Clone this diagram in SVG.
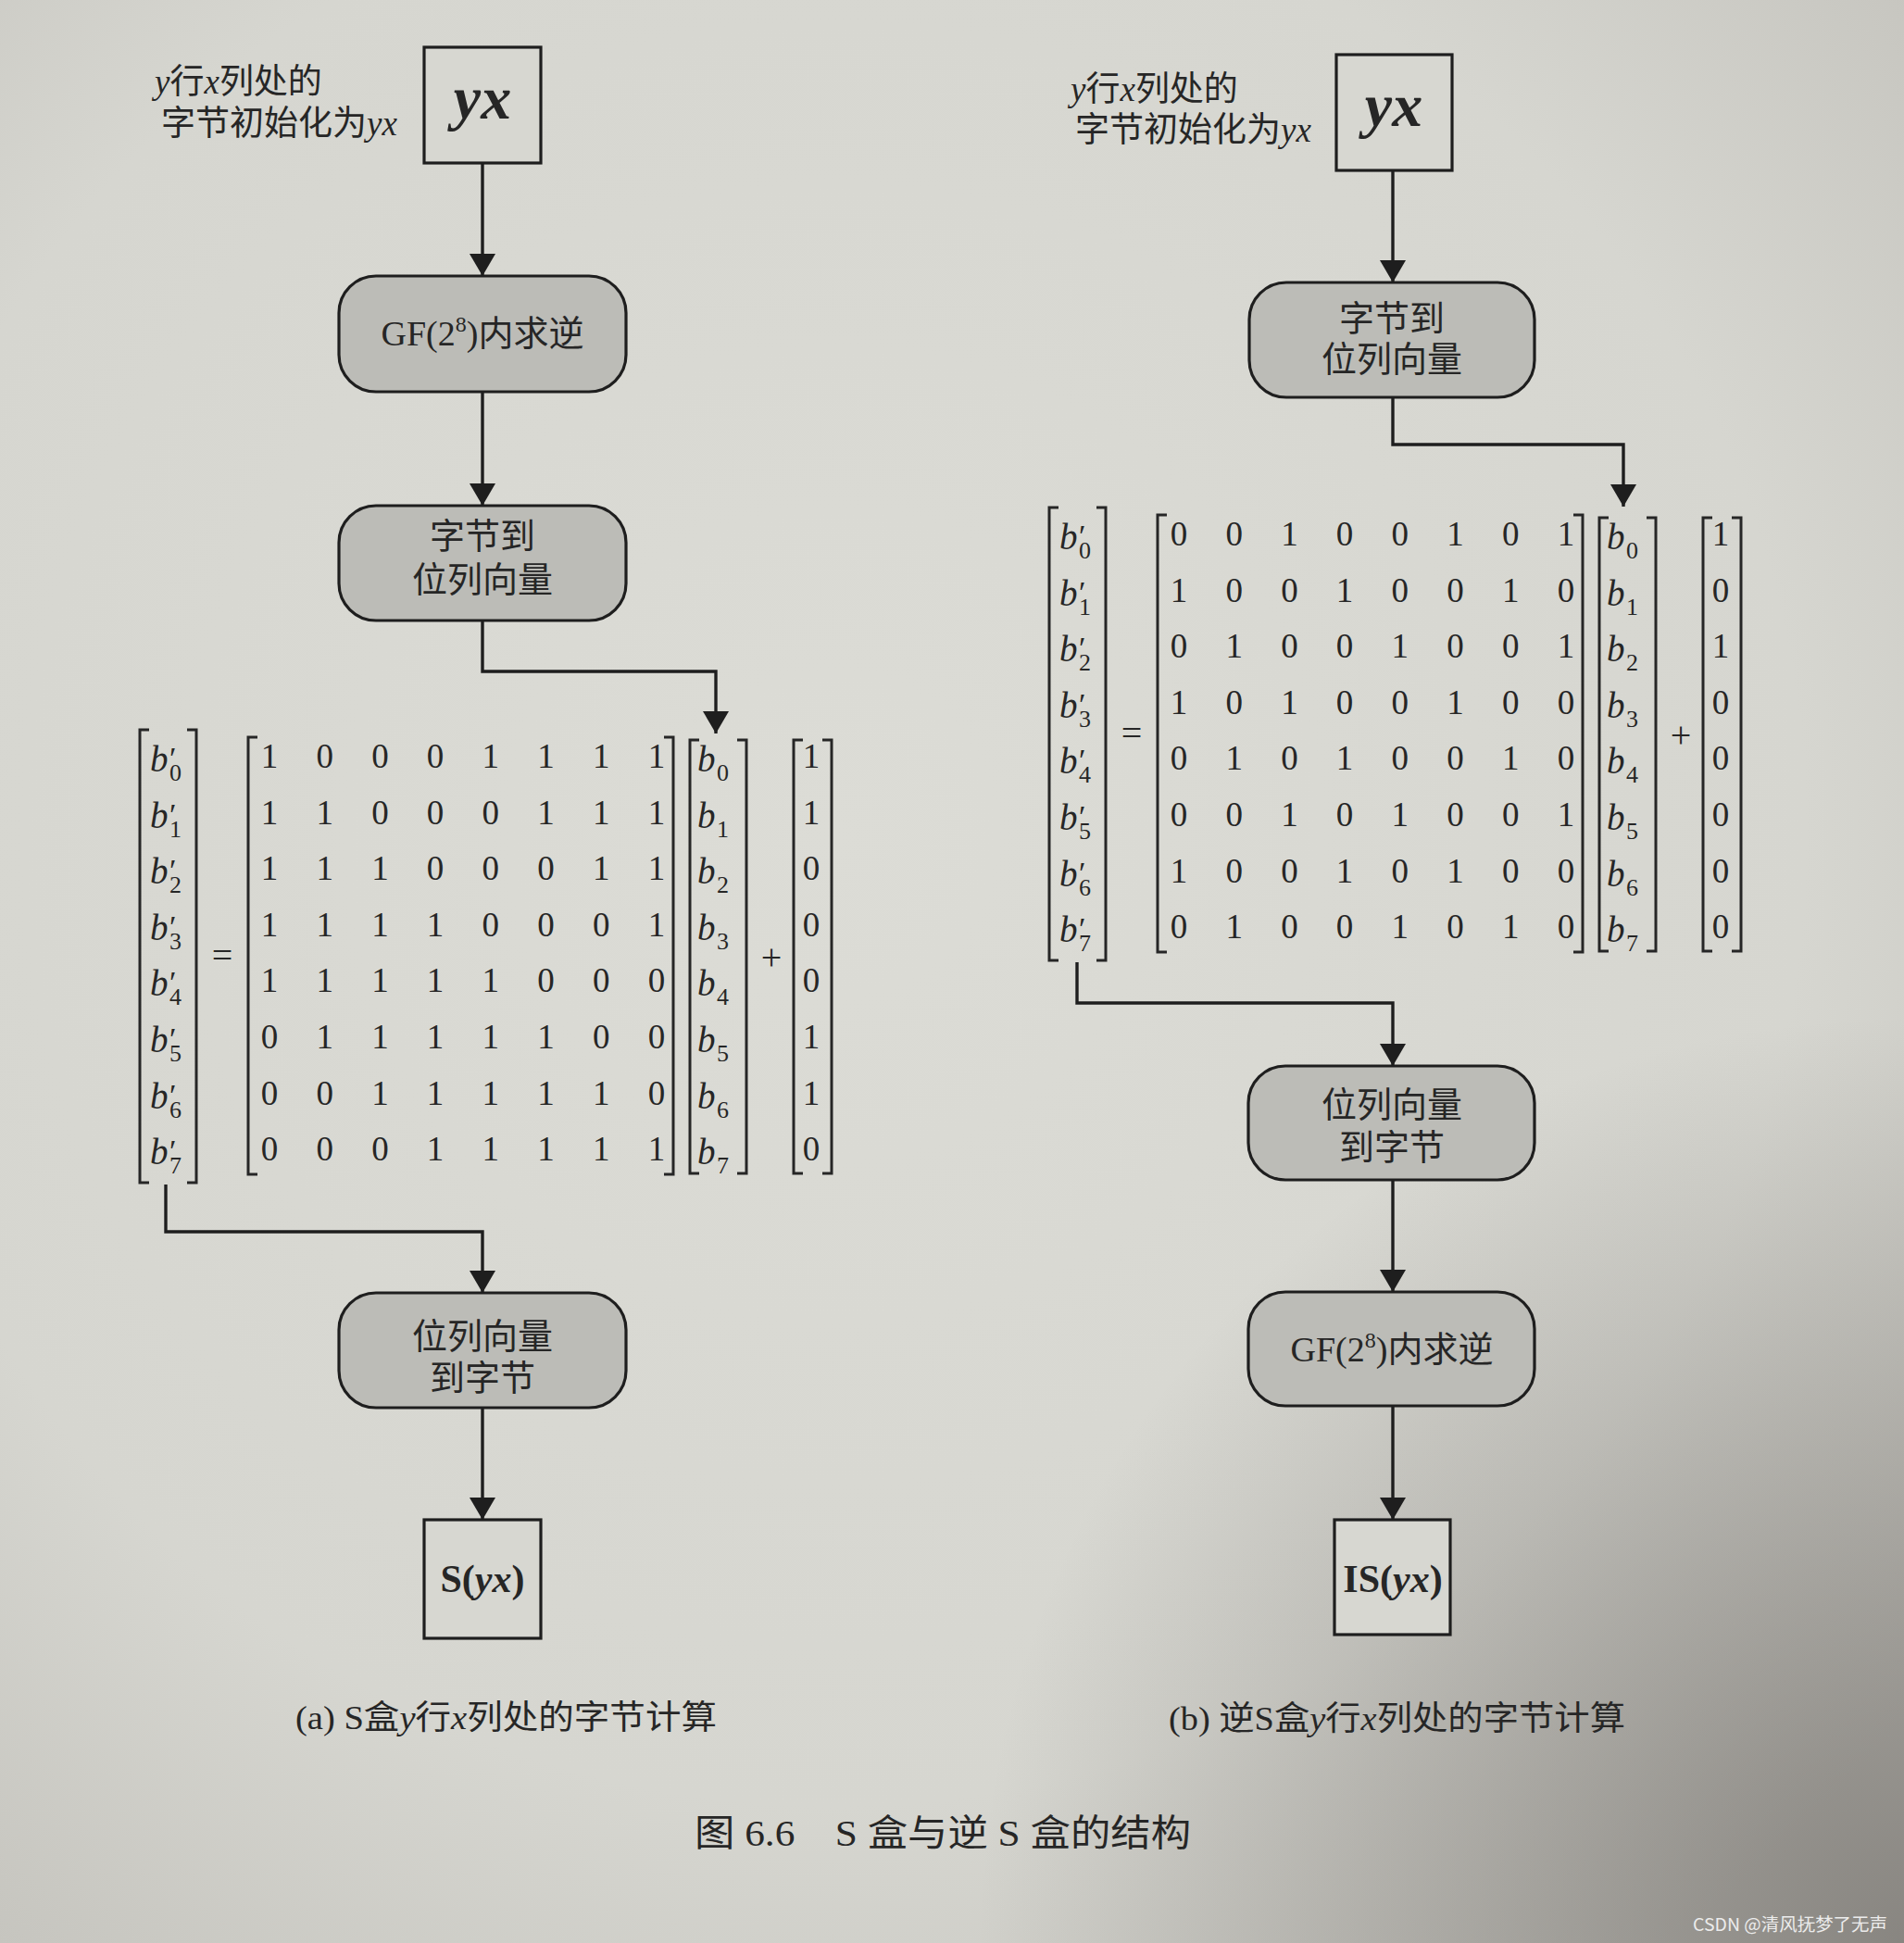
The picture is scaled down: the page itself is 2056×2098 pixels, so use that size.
<svg xmlns="http://www.w3.org/2000/svg" width="2056" height="2098" viewBox="0 0 2056 2098">
<defs>
<radialGradient id="vig" gradientUnits="userSpaceOnUse" cx="2056" cy="2098" r="1000">
<stop offset="0" stop-color="#5f5b57" stop-opacity="0.6"/>
<stop offset="1" stop-color="#5f5b57" stop-opacity="0"/>
</radialGradient>
<radialGradient id="vig2" gradientUnits="userSpaceOnUse" cx="900" cy="900" r="1500">
<stop offset="0" stop-color="#dcdcd6"/>
<stop offset="0.7" stop-color="#d6d6d0"/>
<stop offset="1" stop-color="#c6c5bf"/>
</radialGradient>
<marker id="arr" viewBox="0 0 24 28" markerWidth="24" markerHeight="28" refX="24" refY="14" orient="auto" markerUnits="userSpaceOnUse">
<path d="M0,0 L24,14 L0,28 z" fill="#1e1e1e"/>
</marker>
<style>
.t{font-family:'Liberation Serif','Noto Sans CJK SC',serif;fill:#262626;}
.c{text-anchor:middle;}
.i{font-style:italic;}
.sq{fill:#d7d7d1;stroke:#1e1e1e;stroke-width:3.2;}
.rb{fill:#bcbcb7;stroke:#1e1e1e;stroke-width:3.2;}
.ln{fill:none;stroke:#1e1e1e;stroke-width:3.4;}
.br{fill:none;stroke:#262626;stroke-width:3;}
.dg{font-family:'Liberation Serif',serif;font-size:37px;fill:#262626;text-anchor:middle;}
.bv{font-family:'Liberation Serif',serif;font-size:39px;font-style:italic;fill:#262626;}
.sb{font-family:'Liberation Serif',serif;font-size:26px;fill:#262626;}
.pr{font-family:'Liberation Serif',serif;font-size:34px;fill:#262626;}
.op{font-family:'Liberation Serif',serif;font-size:40px;fill:#262626;text-anchor:middle;}
</style>
<g id="bprime">
<text class="bv" x="162" y="833">b</text><text class="pr" x="183" y="830">′</text><text class="sb" x="183" y="843">0</text>
<text class="bv" x="162" y="893.6">b</text><text class="pr" x="183" y="890.6">′</text><text class="sb" x="183" y="903.6">1</text>
<text class="bv" x="162" y="954.2">b</text><text class="pr" x="183" y="951.2">′</text><text class="sb" x="183" y="964.2">2</text>
<text class="bv" x="162" y="1014.8">b</text><text class="pr" x="183" y="1011.8">′</text><text class="sb" x="183" y="1024.8">3</text>
<text class="bv" x="162" y="1075.4">b</text><text class="pr" x="183" y="1072.4">′</text><text class="sb" x="183" y="1085.4">4</text>
<text class="bv" x="162" y="1136">b</text><text class="pr" x="183" y="1133">′</text><text class="sb" x="183" y="1146">5</text>
<text class="bv" x="162" y="1196.6">b</text><text class="pr" x="183" y="1193.6">′</text><text class="sb" x="183" y="1206.6">6</text>
<text class="bv" x="162" y="1257.2">b</text><text class="pr" x="183" y="1254.2">′</text><text class="sb" x="183" y="1267.2">7</text>
</g>
<g id="bvec">
<text class="bv" x="753" y="833">b</text><text class="sb" x="774" y="843">0</text>
<text class="bv" x="753" y="893.6">b</text><text class="sb" x="774" y="903.6">1</text>
<text class="bv" x="753" y="954.2">b</text><text class="sb" x="774" y="964.2">2</text>
<text class="bv" x="753" y="1014.8">b</text><text class="sb" x="774" y="1024.8">3</text>
<text class="bv" x="753" y="1075.4">b</text><text class="sb" x="774" y="1085.4">4</text>
<text class="bv" x="753" y="1136">b</text><text class="sb" x="774" y="1146">5</text>
<text class="bv" x="753" y="1196.6">b</text><text class="sb" x="774" y="1206.6">6</text>
<text class="bv" x="753" y="1257.2">b</text><text class="sb" x="774" y="1267.2">7</text>
</g>
<g id="brackets">
<path class="br" d="M161,788 H151 V1277 H161 M202,788 H212 V1277 H202"/>
<path class="br" d="M278,796 H268 V1268 H278 M717,796 H727 V1268 H717"/>
<path class="br" d="M755,799 H745 V1267 H755 M796,799 H806 V1267 H796"/>
<path class="br" d="M867,799 H857 V1267 H867 M888,799 H898 V1267 H888"/>
<text class="op" x="240" y="1045">=</text>
<text class="op" x="833" y="1047">+</text>
</g>
</defs>

<rect x="0" y="0" width="2056" height="2098" fill="url(#vig2)"/>
<rect x="0" y="0" width="2056" height="2098" fill="url(#vig)"/>

<g id="connectors">
<line class="ln" x1="521" y1="176" x2="521" y2="298" marker-end="url(#arr)"/>
<line class="ln" x1="521" y1="423" x2="521" y2="546" marker-end="url(#arr)"/>
<polyline class="ln" points="521,670 521,725 773,725 773,792" marker-end="url(#arr)"/>
<polyline class="ln" points="179,1279 179,1330 521,1330 521,1396" marker-end="url(#arr)"/>
<line class="ln" x1="521" y1="1520" x2="521" y2="1641" marker-end="url(#arr)"/>
<line class="ln" x1="1504" y1="184" x2="1504" y2="305" marker-end="url(#arr)"/>
<polyline class="ln" points="1504,429 1504,480 1753,480 1753,547" marker-end="url(#arr)"/>
<polyline class="ln" points="1163,1039 1163,1083 1504,1083 1504,1151" marker-end="url(#arr)"/>
<line class="ln" x1="1504" y1="1274" x2="1504" y2="1395" marker-end="url(#arr)"/>
<line class="ln" x1="1504" y1="1518" x2="1504" y2="1641" marker-end="url(#arr)"/>
</g>

<g id="label-a">
<text class="t" x="167" y="101" font-size="37"><tspan class="i">y</tspan>行<tspan class="i">x</tspan>列处的</text>
<text class="t" x="174" y="146" font-size="37">字节初始化为<tspan class="i">yx</tspan></text>
</g>
<g id="node-yx-a">
<rect class="sq" x="458" y="51" width="126" height="125"/>
<text class="t c" x="521" y="128" font-size="66" font-weight="bold" font-style="italic">yx</text>
</g>
<g id="node-gf-a">
<rect class="rb" x="366" y="298" width="310" height="125" rx="40"/>
<text class="t c" x="521" y="373" font-size="38">GF(2<tspan font-size="24" dy="-15">8</tspan><tspan dy="15">)内求逆</tspan></text>
</g>
<g id="node-b2v-a">
<rect class="rb" x="366" y="546" width="310" height="124" rx="40"/>
<text class="t c" x="521" y="592" font-size="38">字节到</text>
<text class="t c" x="521" y="639" font-size="38">位列向量</text>
</g>
<g id="node-matrix-a">
<use href="#bprime"/>
<use href="#brackets"/>
<use href="#bvec"/>
<text class="dg" x="291 350.7 410.4 470.1 529.8 589.5 649.2 708.9" y="829">10001111</text>
<text class="dg" x="291 350.7 410.4 470.1 529.8 589.5 649.2 708.9" y="889.6">11000111</text>
<text class="dg" x="291 350.7 410.4 470.1 529.8 589.5 649.2 708.9" y="950.2">11100011</text>
<text class="dg" x="291 350.7 410.4 470.1 529.8 589.5 649.2 708.9" y="1010.8">11110001</text>
<text class="dg" x="291 350.7 410.4 470.1 529.8 589.5 649.2 708.9" y="1071.4">11111000</text>
<text class="dg" x="291 350.7 410.4 470.1 529.8 589.5 649.2 708.9" y="1132">01111100</text>
<text class="dg" x="291 350.7 410.4 470.1 529.8 589.5 649.2 708.9" y="1192.6">00111110</text>
<text class="dg" x="291 350.7 410.4 470.1 529.8 589.5 649.2 708.9" y="1253.2">00011111</text>
<text class="dg" x="876" y="829">1</text>
<text class="dg" x="876" y="889.6">1</text>
<text class="dg" x="876" y="950.2">0</text>
<text class="dg" x="876" y="1010.8">0</text>
<text class="dg" x="876" y="1071.4">0</text>
<text class="dg" x="876" y="1132">1</text>
<text class="dg" x="876" y="1192.6">1</text>
<text class="dg" x="876" y="1253.2">0</text>
</g>
<g id="node-v2b-a">
<rect class="rb" x="366" y="1396" width="310" height="124" rx="40"/>
<text class="t c" x="521" y="1456" font-size="38">位列向量</text>
<text class="t c" x="521" y="1501" font-size="38">到字节</text>
</g>
<g id="node-s-a">
<rect class="sq" x="458" y="1641" width="126" height="128"/>
<text class="t c" x="521" y="1719" font-size="42" font-weight="bold">S(<tspan class="i">yx</tspan>)</text>
</g>
<g id="caption-a">
<text class="t" x="319" y="1867" font-size="36" textLength="455" lengthAdjust="spacingAndGlyphs">(a) S盒<tspan class="i">y</tspan>行<tspan class="i">x</tspan>列处的字节计算</text>
</g>

<g id="label-b">
<text class="t" x="1156" y="109" font-size="37"><tspan class="i">y</tspan>行<tspan class="i">x</tspan>列处的</text>
<text class="t" x="1161" y="153" font-size="37">字节初始化为<tspan class="i">yx</tspan></text>
</g>
<g id="node-yx-b">
<rect class="sq" x="1443" y="59" width="125" height="125"/>
<text class="t c" x="1505" y="136" font-size="66" font-weight="bold" font-style="italic">yx</text>
</g>
<g id="node-b2v-b">
<rect class="rb" x="1349" y="305" width="308" height="124" rx="40"/>
<text class="t c" x="1503" y="357" font-size="38">字节到</text>
<text class="t c" x="1503" y="401" font-size="38">位列向量</text>
</g>
<g id="node-matrix-b" transform="translate(982,-240)">
<use href="#bprime"/>
<use href="#brackets"/>
<use href="#bvec"/>
<text class="dg" x="291 350.7 410.4 470.1 529.8 589.5 649.2 708.9" y="829">00100101</text>
<text class="dg" x="291 350.7 410.4 470.1 529.8 589.5 649.2 708.9" y="889.6">10010010</text>
<text class="dg" x="291 350.7 410.4 470.1 529.8 589.5 649.2 708.9" y="950.2">01001001</text>
<text class="dg" x="291 350.7 410.4 470.1 529.8 589.5 649.2 708.9" y="1010.8">10100100</text>
<text class="dg" x="291 350.7 410.4 470.1 529.8 589.5 649.2 708.9" y="1071.4">01010010</text>
<text class="dg" x="291 350.7 410.4 470.1 529.8 589.5 649.2 708.9" y="1132">00101001</text>
<text class="dg" x="291 350.7 410.4 470.1 529.8 589.5 649.2 708.9" y="1192.6">10010100</text>
<text class="dg" x="291 350.7 410.4 470.1 529.8 589.5 649.2 708.9" y="1253.2">01001010</text>
<text class="dg" x="876" y="829">1</text>
<text class="dg" x="876" y="889.6">0</text>
<text class="dg" x="876" y="950.2">1</text>
<text class="dg" x="876" y="1010.8">0</text>
<text class="dg" x="876" y="1071.4">0</text>
<text class="dg" x="876" y="1132">0</text>
<text class="dg" x="876" y="1192.6">0</text>
<text class="dg" x="876" y="1253.2">0</text>
</g>
<g id="node-v2b-b">
<rect class="rb" x="1348" y="1151" width="309" height="123" rx="40"/>
<text class="t c" x="1503" y="1206" font-size="38">位列向量</text>
<text class="t c" x="1503" y="1252" font-size="38">到字节</text>
</g>
<g id="node-gf-b">
<rect class="rb" x="1348" y="1395" width="309" height="123" rx="40"/>
<text class="t c" x="1503" y="1470" font-size="38">GF(2<tspan font-size="24" dy="-15">8</tspan><tspan dy="15">)内求逆</tspan></text>
</g>
<g id="node-is-b">
<rect class="sq" x="1441" y="1641" width="125" height="124"/>
<text class="t c" x="1504" y="1719" font-size="42" font-weight="bold">IS(<tspan class="i">yx</tspan>)</text>
</g>
<g id="caption-b">
<text class="t" x="1262" y="1868" font-size="36" textLength="493" lengthAdjust="spacingAndGlyphs">(b) 逆S盒<tspan class="i">y</tspan>行<tspan class="i">x</tspan>列处的字节计算</text>
</g>

<g id="title">
<text class="t" x="750" y="1993" font-size="40" textLength="536" lengthAdjust="spacingAndGlyphs">图 6.6　S 盒与逆 S 盒的结构</text>
</g>
<g id="watermark">
<text x="1828" y="2085" font-family="'Noto Sans CJK SC','Liberation Sans',sans-serif" font-size="19" fill="#ececec" textLength="210" lengthAdjust="spacingAndGlyphs">CSDN @清风抚梦了无声</text>
</g>
</svg>
